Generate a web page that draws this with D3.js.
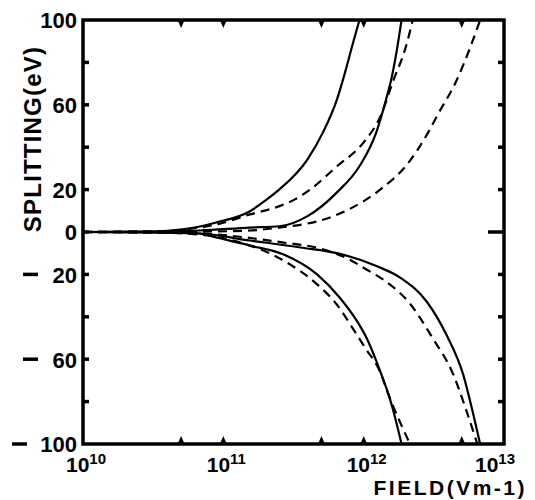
<!DOCTYPE html>
<html>
<head>
<meta charset="utf-8">
<script src="https://cdn.jsdelivr.net/npm/d3@7"></script>
<style>
  body { margin: 0; background: #fff; }
  text { font-family: "Liberation Sans", Arial, Helvetica, sans-serif; font-weight: bold; fill: #000; }
</style>
</head>
<body>
<div id="chart"></div>
<script>
var w = 535;
var h = 500;

// curves: [log10 of field (V/m), splitting (eV)]
var upperSolid1 = [[10,0],[10.48,0.2],[10.71,1.2],[10.95,4.5],[11.19,9.8],[11.31,15.4],[11.40,20.1],
                   [11.60,34.3],[11.71,47.0],[11.81,62.6],[11.87,75.9],[11.92,88.2],[11.97,100]];
var upperSolid2 = [[10,0],[10.48,0.2],[10.83,0.7],[11.19,2.1],[11.40,2.7],[11.60,7.5],[11.81,18.7],
                   [11.97,31.0],[12.09,47.0],[12.16,62.6],[12.20,73.0],[12.24,87.2],[12.27,100]];
var upperDash1  = [[10,0],[10.48,0.2],[10.83,2.1],[10.95,3.5],[11.19,8.3],[11.40,12.2],[11.51,15.4],
                   [11.62,20.1],[11.81,31.0],[12.00,42.3],[12.12,54.6],[12.21,71.2],[12.30,87.2],[12.35,100]];
var upperDash2  = [[10,0],[10.48,0.2],[10.83,0.2],[11.19,0.7],[11.40,2.1],[11.60,4.0],[11.69,5.4],
                   [11.88,10.2],[12.12,20.1],[12.31,31.9],[12.46,47.0],[12.53,55.6],[12.66,71.2],[12.76,87.2],[12.83,100]];
var lowerSolid1 = [[10,0],[10.48,-0.2],[10.83,-0.7],[10.95,-2.6],[11.19,-6.4],[11.43,-10.6],[11.67,-20.1],
                   [11.83,-31.0],[11.95,-41.8],[12.02,-49.9],[12.10,-62.6],[12.20,-81.6],[12.27,-100]];
var lowerDash1  = [[10,0],[10.48,-0.2],[10.83,-1.2],[11.07,-4.0],[11.43,-13.5],[11.67,-24.8],[11.81,-34.3],
                   [11.92,-45.2],[12.02,-55.6],[12.10,-63.6],[12.20,-80.6],[12.33,-100]];
var lowerSolid2 = [[10,0],[10.48,-0.2],[10.83,-0.7],[11.19,-4.0],[11.55,-7.3],[11.85,-10.6],[12.10,-16.3],
                   [12.26,-21.5],[12.45,-32.9],[12.59,-48.5],[12.71,-67.4],[12.77,-82.9],[12.83,-100]];
var lowerDash2  = [[10,0],[10.48,-0.2],[10.83,-0.7],[11.43,-5.0],[11.69,-7.8],[11.90,-13.0],[12.02,-17.7],
                   [12.14,-22.5],[12.33,-33.8],[12.49,-49.9],[12.64,-67.4],[12.73,-83.9],[12.81,-100]];

var yLabelTicks = [100, 60, 20, 0, -20, -60, -100];
var yAllTicks = [80, 60, 40, 20, 0, -20, -40, -60, -80];
var xLabelExps = [10, 11, 12, 13];
var xMarkFields = [5e10, 1e11, 5e11, 1e12, 5e12];

var margin = {top: 20, right: 31, bottom: 56, left: 83},
    width = w - margin.left - margin.right,
    height = h - margin.top - margin.bottom;

var svg = d3.select("#chart")
    .append("svg")
    .attr("width", w)
    .attr("height", h);

var g = svg.append("g").attr("transform", "translate(" + margin.left + "," + margin.top + ")");

var x = d3.scaleLog().domain([1e10, 1e13]).range([0, width]);
var y = d3.scaleLinear().domain([-100, 100]).range([height, 0]);

g.append("clipPath").attr("id", "clip")
  .append("rect").attr("width", width).attr("height", height);

var line = d3.line()
  .x(function(d) { return x(Math.pow(10, d[0])); })
  .y(function(d) { return y(d[1]); })
  .curve(d3.curveMonotoneX);

var curves = [
  {data: upperSolid1, dash: null},
  {data: upperSolid2, dash: null},
  {data: upperDash1, dash: "9,6"},
  {data: upperDash2, dash: "9,6"},
  {data: lowerSolid1, dash: null},
  {data: lowerSolid2, dash: null},
  {data: lowerDash1, dash: "9,6"},
  {data: lowerDash2, dash: "9,6"}
];

g.append("g").attr("clip-path", "url(#clip)")
  .selectAll("path")
  .data(curves)
  .enter().append("path")
    .attr("fill", "none")
    .attr("stroke", "#000")
    .attr("stroke-width", 2.2)
    .attr("stroke-dasharray", function(d) { return d.dash; })
    .attr("d", function(d) { return line(d.data); });

// frame
g.append("rect")
  .attr("width", width)
  .attr("height", height)
  .attr("fill", "none")
  .attr("stroke", "#000")
  .attr("stroke-width", 3.5);

// inward ticks on the left and right sides
g.selectAll(".ltick").data(yAllTicks).enter().append("line")
  .attr("x1", 0).attr("x2", 6)
  .attr("y1", function(d) { return y(d); }).attr("y2", function(d) { return y(d); })
  .attr("stroke", "#000").attr("stroke-width", 3.5);

g.selectAll(".rtick").data(yAllTicks).enter().append("line")
  .attr("x1", width).attr("x2", function(d) { return d === 0 ? width - 16 : width - 6; })
  .attr("y1", function(d) { return y(d); }).attr("y2", function(d) { return y(d); })
  .attr("stroke", "#000").attr("stroke-width", 3.5);

// small triangle marks on top and bottom
var tri = function(base, dir) {
  return function(d) {
    var cx = x(d);
    return "M" + (cx - 3.5) + "," + base + "L" + (cx + 3.5) + "," + base + "L" + cx + "," + (base + dir * 8) + "Z";
  };
};
g.selectAll(".btri").data(xMarkFields).enter().append("path")
  .attr("d", tri(height, -1)).attr("fill", "#000");
g.selectAll(".ttri").data(xMarkFields).enter().append("path")
  .attr("d", tri(0, 1)).attr("fill", "#000");

// y labels
var yAxis = g.append("g")
  .call(d3.axisLeft(y).tickValues(yLabelTicks).tickSize(0).tickPadding(6)
    .tickFormat(function(d) { return Math.abs(d); }));
yAxis.select(".domain").remove();
yAxis.selectAll("text")
  .attr("font-family", null)
  .style("font-size", "22px")
  .attr("dy", "0.36em");

g.selectAll(".minus").data(yLabelTicks.filter(function(d) { return d < 0; })).enter().append("line")
  .attr("x1", function(d) { return d === -100 ? -71 : -60; })
  .attr("x2", function(d) { return d === -100 ? -56 : -45; })
  .attr("y1", function(d) { return y(d); }).attr("y2", function(d) { return y(d); })
  .attr("stroke", "#000").attr("stroke-width", 3.5);

// x labels: 10 with superscript exponent (last one pulled inside the frame edge)
var last = xLabelExps[xLabelExps.length - 1];
var xl = g.selectAll(".xlab").data(xLabelExps).enter().append("text")
  .attr("x", function(d) { return d === last ? x(Math.pow(10, d)) + 11 : x(Math.pow(10, d)) + 3; })
  .attr("y", height + 28)
  .attr("text-anchor", function(d) { return d === last ? "end" : "middle"; })
  .style("font-size", "21px");
xl.append("tspan").text("10");
xl.append("tspan")
  .attr("dy", -8)
  .style("font-size", "15px")
  .text(function(d) { return d; });

g.append("text")
  .attr("x", width + 23)
  .attr("y", height + 51)
  .attr("text-anchor", "end")
  .style("font-size", "21px")
  .style("letter-spacing", "2.5px")
  .text("FIELD(Vm-1)");

g.append("text")
  .attr("transform", "translate(-42," + (y(0) - 93) + ") rotate(-90)")
  .attr("text-anchor", "middle")
  .style("font-size", "24px")
  .style("letter-spacing", "1.2px")
  .text("SPLITTING(eV)");
</script>
</body>
</html>
